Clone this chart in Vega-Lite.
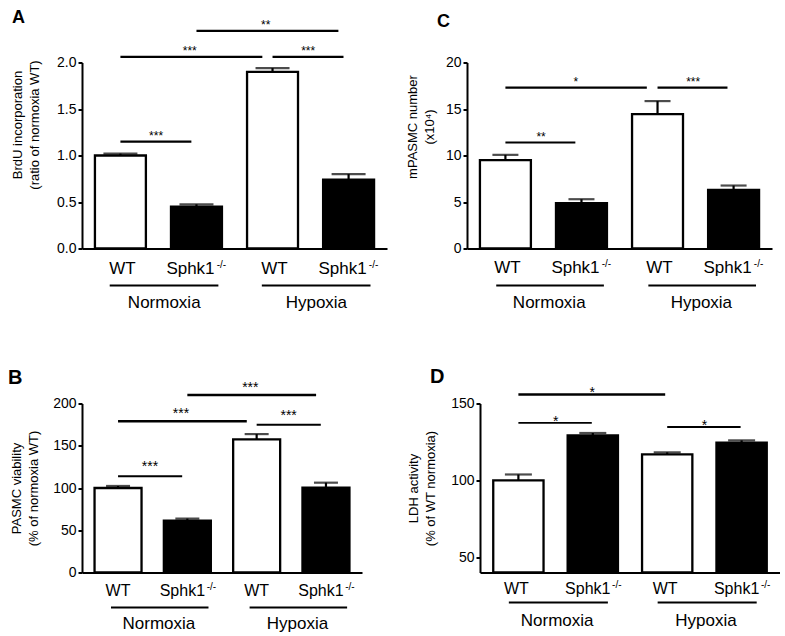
{
  "$schema": "https://vega.github.io/schema/vega-lite/v6.json",
  "padding": {"left": 8, "top": 8.5, "right": 0, "bottom": 0},
  "background": "white",
  "config": {
    "view": {"stroke": null},
    "font": "Liberation Sans",
    "axis": {"grid": false, "labelFont": "Liberation Sans", "titleFont": "Liberation Sans", "labelColor": "black", "titleColor": "black", "domainColor": "black", "tickColor": "black"},
    "title": {"font": "Liberation Sans", "color": "black"},
    "text": {"font": "Liberation Sans", "color": "black"}
  },
  "bounds": "flush",
  "spacing": 341,
  "vconcat": [
    {
      "bounds": "flush",
      "spacing": 80,
      "hconcat": [
        {
          "width": 305, "height": 186,
          "title": {"text": "A", "anchor": "start", "frame": "group", "fontSize": 18, "fontWeight": "bold", "dx": -70, "offset": -8},
          "data": {"values": [
            {"cond": "N_WT", "g": "WT", "v": 1.0, "hi": 1.02},
            {"cond": "N_KO", "g": "KO", "v": 0.45, "hi": 0.475},
            {"cond": "H_WT", "g": "WT", "v": 1.9, "hi": 1.94},
            {"cond": "H_KO", "g": "KO", "v": 0.74, "hi": 0.8}
          ]},
          "layer": [
            {
              "mark": {"type": "bar", "stroke": "black", "strokeWidth": 2.3},
              "encoding": {
                "x": {"field": "cond", "type": "nominal", "scale": {"domain": ["N_WT", "N_KO", "H_WT", "H_KO"], "paddingInner": 0.33, "paddingOuter": 0.17},
                  "axis": {"title": null, "labelAngle": 0, "domainWidth": 2, "ticks": false, "tickSize": 0, "labelFontSize": 17, "labelPadding": 12, "labelOverlap": false,
                    "labelExpr": "indexof(datum.value,'WT')>=0 ? 'WT' : 'Sphk1'",
                    "labelOffset": {"condition": {"test": "indexof(datum.value,'KO')>=0", "value": -6}, "value": 2}}},
                "y": {"field": "v", "type": "quantitative", "scale": {"domain": [0, 2], "nice": false},
                  "axis": {"values": [0, 0.5, 1, 1.5, 2], "format": ".1f", "tickSize": 4, "tickWidth": 2, "domainWidth": 2, "labelFontSize": 14, "labelPadding": 2,
                    "title": ["BrdU incorporation", "(ratio of normoxia WT)"], "titleFontSize": 13, "titleFontWeight": "normal", "titleLineHeight": 17, "titlePadding": 15, "titleY": 62}},
                "fill": {"field": "g", "type": "nominal", "scale": {"domain": ["WT", "KO"], "range": ["white", "black"]}, "legend": null}
              }
            },
            {
              "mark": {"type": "rule", "color": "black", "strokeWidth": 2.2},
              "encoding": {"x": {"field": "cond", "type": "nominal"}, "y": {"field": "v", "type": "quantitative"}, "y2": {"field": "hi"}}
            },
            {
              "mark": {"type": "tick", "color": "black", "thickness": 2.2, "size": 34},
              "encoding": {"x": {"field": "cond", "type": "nominal"}, "y": {"field": "hi", "type": "quantitative"}}
            },
            {
              "transform": [{"filter": "datum.g == 'KO'"}],
              "mark": {"type": "text", "fontSize": 10, "baseline": "top", "dx": 25, "dy": 11.5},
              "encoding": {"x": {"field": "cond", "type": "nominal"}, "y": {"datum": 0}, "text": {"value": "-/-"}}
            },
            {
              "data": {"values": [
                {"a": "N_WT", "b": "N_KO", "grp": "Normoxia"},
                {"a": "H_WT", "b": "H_KO", "grp": "Hypoxia"}
              ]},
              "layer": [
                {"mark": {"type": "rule", "color": "black", "strokeWidth": 2, "yOffset": 37},
                 "encoding": {"x": {"field": "a", "type": "nominal", "bandPosition": 0.29}, "x2": {"field": "b", "bandPosition": 0.93}, "y": {"datum": 0}}},
                {"mark": {"type": "text", "fontSize": 17, "baseline": "top", "dy": 46},
                 "encoding": {"x": {"field": "a", "type": "nominal", "bandPosition": 1.36}, "y": {"datum": 0}, "text": {"field": "grp"}}}
              ]
            },
            {
              "data": {"values": [
                {"a": "N_WT", "b": "N_KO", "y": 1.15, "s": "***"},
                {"a": "N_WT", "b": "H_WT", "y": 2.06, "s": "***"},
                {"a": "H_WT", "b": "H_KO", "y": 2.06, "s": "***"},
                {"a": "N_KO", "b": "H_KO", "y": 2.34, "s": "**"}
              ]},
              "layer": [
                {
                  "transform": [{"filter": "!((datum.a=='N_WT' && datum.b=='H_WT') || (datum.a=='N_KO' && datum.b=='H_KO'))"}],
                  "layer": [
                    {"mark": {"type": "rule", "color": "black", "strokeWidth": 2.2},
                     "encoding": {"x": {"field": "a", "type": "nominal", "bandPosition": 0.5}, "x2": {"field": "b", "bandPosition": 0.4}, "y": {"field": "y", "type": "quantitative"}}},
                    {"mark": {"type": "text", "fontSize": 12, "baseline": "alphabetic", "dy": -2},
                     "encoding": {"x": {"field": "a", "type": "nominal", "bandPosition": 1.2}, "y": {"field": "y", "type": "quantitative"}, "text": {"field": "s"}}}
                  ]
                },
                {
                  "transform": [{"filter": "(datum.a=='N_WT' && datum.b=='H_WT') || (datum.a=='N_KO' && datum.b=='H_KO')"}],
                  "layer": [
                    {"mark": {"type": "rule", "color": "black", "strokeWidth": 2.2},
                     "encoding": {"x": {"field": "a", "type": "nominal", "bandPosition": 0.5}, "x2": {"field": "b", "bandPosition": 0.3}, "y": {"field": "y", "type": "quantitative"}}},
                    {"mark": {"type": "text", "fontSize": 12, "baseline": "alphabetic", "dy": -2},
                     "encoding": {"x": {"field": "a", "type": "nominal", "bandPosition": 1.86}, "y": {"field": "y", "type": "quantitative"}, "text": {"field": "s"}}}
                  ]
                }
              ]
            }
          ]
        },
        {
          "width": 305, "height": 186,
          "title": {"text": "C", "anchor": "start", "frame": "group", "fontSize": 18, "fontWeight": "bold", "dx": -30, "offset": 25},
          "data": {"values": [
            {"cond": "N_WT", "g": "WT", "v": 9.5, "hi": 10.07},
            {"cond": "N_KO", "g": "KO", "v": 4.87, "hi": 5.3},
            {"cond": "H_WT", "g": "WT", "v": 14.45, "hi": 15.85},
            {"cond": "H_KO", "g": "KO", "v": 6.3, "hi": 6.77}
          ]},
          "layer": [
            {
              "mark": {"type": "bar", "stroke": "black", "strokeWidth": 2.3},
              "encoding": {
                "x": {"field": "cond", "type": "nominal", "scale": {"domain": ["N_WT", "N_KO", "H_WT", "H_KO"], "paddingInner": 0.33, "paddingOuter": 0.17},
                  "axis": {"title": null, "labelAngle": 0, "domainWidth": 2, "ticks": false, "tickSize": 0, "labelFontSize": 17, "labelPadding": 11, "labelOverlap": false,
                    "labelExpr": "indexof(datum.value,'WT')>=0 ? 'WT' : 'Sphk1'",
                    "labelOffset": {"condition": {"test": "indexof(datum.value,'KO')>=0", "value": -6}, "value": 2}}},
                "y": {"field": "v", "type": "quantitative", "scale": {"domain": [0, 20], "nice": false},
                  "axis": {"values": [0, 5, 10, 15, 20], "tickSize": 4, "tickWidth": 2, "domainWidth": 2, "labelFontSize": 14, "labelPadding": 2,
                    "title": ["mPASMC number", "(x10⁴)"], "titleFontSize": 13, "titleFontWeight": "normal", "titleLineHeight": 17, "titlePadding": 9, "titleY": 64}},
                "fill": {"field": "g", "type": "nominal", "scale": {"domain": ["WT", "KO"], "range": ["white", "black"]}, "legend": null}
              }
            },
            {
              "mark": {"type": "rule", "color": "black", "strokeWidth": 2.2},
              "encoding": {"x": {"field": "cond", "type": "nominal"}, "y": {"field": "v", "type": "quantitative"}, "y2": {"field": "hi"}}
            },
            {
              "mark": {"type": "tick", "color": "black", "thickness": 2.2, "size": 26},
              "encoding": {"x": {"field": "cond", "type": "nominal"}, "y": {"field": "hi", "type": "quantitative"}}
            },
            {
              "transform": [{"filter": "datum.g == 'KO'"}],
              "mark": {"type": "text", "fontSize": 10, "baseline": "top", "dx": 25, "dy": 10.5},
              "encoding": {"x": {"field": "cond", "type": "nominal"}, "y": {"datum": 0}, "text": {"value": "-/-"}}
            },
            {
              "data": {"values": [
                {"a": "N_WT", "b": "N_KO", "grp": "Normoxia"},
                {"a": "H_WT", "b": "H_KO", "grp": "Hypoxia"}
              ]},
              "layer": [
                {"mark": {"type": "rule", "color": "black", "strokeWidth": 2, "yOffset": 37},
                 "encoding": {"x": {"field": "a", "type": "nominal", "bandPosition": 0.32}, "x2": {"field": "b", "bandPosition": 0.94}, "y": {"datum": 0}}},
                {"mark": {"type": "text", "fontSize": 17, "baseline": "top", "dy": 46},
                 "encoding": {"x": {"field": "a", "type": "nominal", "bandPosition": 1.36}, "y": {"datum": 0}, "text": {"field": "grp"}}}
              ]
            },
            {
              "data": {"values": [
                {"a": "N_WT", "b": "N_KO", "y": 11.4, "s": "**"},
                {"a": "N_WT", "b": "H_WT", "y": 17.3, "s": "*"},
                {"a": "H_WT", "b": "H_KO", "y": 17.3, "s": "***"}
              ]},
              "layer": [
                {
                  "transform": [{"filter": "!((datum.a=='N_WT' && datum.b=='H_WT') || (datum.a=='N_KO' && datum.b=='H_KO'))"}],
                  "layer": [
                    {"mark": {"type": "rule", "color": "black", "strokeWidth": 2.2},
                     "encoding": {"x": {"field": "a", "type": "nominal", "bandPosition": 0.5}, "x2": {"field": "b", "bandPosition": 0.38}, "y": {"field": "y", "type": "quantitative"}}},
                    {"mark": {"type": "text", "fontSize": 12, "baseline": "alphabetic", "dy": -1.5},
                     "encoding": {"x": {"field": "a", "type": "nominal", "bandPosition": 1.2}, "y": {"field": "y", "type": "quantitative"}, "text": {"field": "s"}}}
                  ]
                },
                {
                  "transform": [{"filter": "(datum.a=='N_WT' && datum.b=='H_WT') || (datum.a=='N_KO' && datum.b=='H_KO')"}],
                  "layer": [
                    {"mark": {"type": "rule", "color": "black", "strokeWidth": 2.2},
                     "encoding": {"x": {"field": "a", "type": "nominal", "bandPosition": 0.5}, "x2": {"field": "b", "bandPosition": 0.29}, "y": {"field": "y", "type": "quantitative"}}},
                    {"mark": {"type": "text", "fontSize": 12, "baseline": "alphabetic", "dy": -1.5},
                     "encoding": {"x": {"field": "a", "type": "nominal", "bandPosition": 1.88}, "y": {"field": "y", "type": "quantitative"}, "text": {"field": "s"}}}
                  ]
                }
              ]
            }
          ]
        }
      ]
    },
    {
      "bounds": "flush",
      "spacing": 118,
      "hconcat": [
        {
          "width": 280, "height": 169,
          "title": {"text": "B", "anchor": "start", "frame": "group", "fontSize": 20, "fontWeight": "bold", "dx": -74, "offset": -7},
          "data": {"values": [
            {"cond": "N_WT", "g": "WT", "v": 100, "hi": 102.4},
            {"cond": "N_KO", "g": "KO", "v": 61.4, "hi": 63.8},
            {"cond": "H_WT", "g": "WT", "v": 157.5, "hi": 163.8},
            {"cond": "H_KO", "g": "KO", "v": 100.4, "hi": 106.3}
          ]},
          "layer": [
            {
              "mark": {"type": "bar", "stroke": "black", "strokeWidth": 2.3},
              "encoding": {
                "x": {"field": "cond", "type": "nominal", "scale": {"domain": ["N_WT", "N_KO", "H_WT", "H_KO"], "paddingInner": 0.322, "paddingOuter": 0.181},
                  "axis": {"title": null, "labelAngle": 0, "domainWidth": 2, "ticks": false, "tickSize": 0, "labelFontSize": 16, "labelPadding": 9.5, "labelOverlap": false,
                    "labelExpr": "indexof(datum.value,'WT')>=0 ? 'WT' : 'Sphk1'",
                    "labelOffset": {"condition": {"test": "indexof(datum.value,'KO')>=0", "value": -5}, "value": 0}}},
                "y": {"field": "v", "type": "quantitative", "scale": {"domain": [0, 200], "nice": false},
                  "axis": {"values": [0, 50, 100, 150, 200], "tickSize": 4, "tickWidth": 2, "domainWidth": 2, "labelFontSize": 14, "labelPadding": 2,
                    "title": ["PASMC viability", "(% of normoxia WT)"], "titleFontSize": 13, "titleFontWeight": "normal", "titleLineHeight": 17, "titlePadding": 12}},
                "fill": {"field": "g", "type": "nominal", "scale": {"domain": ["WT", "KO"], "range": ["white", "black"]}, "legend": null}
              }
            },
            {
              "mark": {"type": "rule", "color": "black", "strokeWidth": 2.2},
              "encoding": {"x": {"field": "cond", "type": "nominal"}, "y": {"field": "v", "type": "quantitative"}, "y2": {"field": "hi"}}
            },
            {
              "mark": {"type": "tick", "color": "black", "thickness": 2.2, "size": 24},
              "encoding": {"x": {"field": "cond", "type": "nominal"}, "y": {"field": "hi", "type": "quantitative"}}
            },
            {
              "transform": [{"filter": "datum.g == 'KO'"}],
              "mark": {"type": "text", "fontSize": 10, "baseline": "top", "dx": 24, "dy": 9},
              "encoding": {"x": {"field": "cond", "type": "nominal"}, "y": {"datum": 0}, "text": {"value": "-/-"}}
            },
            {
              "data": {"values": [
                {"a": "N_WT", "b": "N_KO", "grp": "Normoxia"},
                {"a": "H_WT", "b": "H_KO", "grp": "Hypoxia"}
              ]},
              "layer": [
                {"mark": {"type": "rule", "color": "black", "strokeWidth": 2, "yOffset": 35},
                 "encoding": {"x": {"field": "a", "type": "nominal", "bandPosition": 0.35}, "x2": {"field": "b", "bandPosition": 0.95}, "y": {"datum": 0}}},
                {"mark": {"type": "text", "fontSize": 17, "baseline": "top", "dy": 43},
                 "encoding": {"x": {"field": "a", "type": "nominal", "bandPosition": 1.37}, "y": {"datum": 0}, "text": {"field": "grp"}}}
              ]
            },
            {
              "data": {"values": [
                {"a": "N_WT", "b": "N_KO", "y": 114, "s": "***"},
                {"a": "N_WT", "b": "H_WT", "y": 179, "s": "***"},
                {"a": "H_WT", "b": "H_KO", "y": 175, "s": "***"},
                {"a": "N_KO", "b": "H_KO", "y": 210, "s": "***"}
              ]},
              "layer": [
                {
                  "transform": [{"filter": "!((datum.a=='N_WT' && datum.b=='H_WT') || (datum.a=='N_KO' && datum.b=='H_KO'))"}],
                  "layer": [
                    {"mark": {"type": "rule", "color": "black", "strokeWidth": 2},
                     "encoding": {"x": {"field": "a", "type": "nominal", "bandPosition": 0.5}, "x2": {"field": "b", "bandPosition": 0.39}, "y": {"field": "y", "type": "quantitative"}}},
                    {"mark": {"type": "text", "fontSize": 14, "baseline": "alphabetic", "dy": -5},
                     "encoding": {"x": {"field": "a", "type": "nominal", "bandPosition": 1.18}, "y": {"field": "y", "type": "quantitative"}, "text": {"field": "s"}}}
                  ]
                },
                {
                  "transform": [{"filter": "(datum.a=='N_WT' && datum.b=='H_WT') || (datum.a=='N_KO' && datum.b=='H_KO')"}],
                  "layer": [
                    {"mark": {"type": "rule", "color": "black", "strokeWidth": 2.4},
                     "encoding": {"x": {"field": "a", "type": "nominal", "bandPosition": 0.5}, "x2": {"field": "b", "bandPosition": 0.29}, "y": {"field": "y", "type": "quantitative"}}},
                    {"mark": {"type": "text", "fontSize": 14, "baseline": "alphabetic", "dy": -3},
                     "encoding": {"x": {"field": "a", "type": "nominal", "bandPosition": 1.84}, "y": {"field": "y", "type": "quantitative"}, "text": {"field": "s"}}}
                  ]
                }
              ]
            }
          ]
        },
        {
          "width": 300, "height": 169,
          "title": {"text": "D", "anchor": "start", "frame": "group", "fontSize": 20, "fontWeight": "bold", "dx": -50, "offset": -1},
          "data": {"values": [
            {"cond": "N_WT", "g": "WT", "v": 100, "hi": 103.8},
            {"cond": "N_KO", "g": "KO", "v": 129.3, "hi": 130.8},
            {"cond": "H_WT", "g": "WT", "v": 116.9, "hi": 118.2},
            {"cond": "H_KO", "g": "KO", "v": 124.5, "hi": 126}
          ]},
          "layer": [
            {
              "mark": {"type": "bar", "stroke": "black", "strokeWidth": 2.3},
              "encoding": {
                "x": {"field": "cond", "type": "nominal", "scale": {"domain": ["N_WT", "N_KO", "H_WT", "H_KO"], "paddingInner": 0.324, "paddingOuter": 0.178},
                  "axis": {"title": null, "labelAngle": 0, "domainWidth": 2, "ticks": false, "tickSize": 0, "labelFontSize": 16, "labelPadding": 8, "labelOverlap": false,
                    "labelExpr": "indexof(datum.value,'WT')>=0 ? 'WT' : 'Sphk1'",
                    "labelOffset": {"condition": {"test": "indexof(datum.value,'KO')>=0", "value": -5}, "value": -2}}},
                "y": {"field": "v", "type": "quantitative", "scale": {"domain": [40, 150], "nice": false, "zero": false},
                  "axis": {"values": [50, 100, 150], "tickSize": 4, "tickWidth": 2, "domainWidth": 2, "labelFontSize": 14, "labelPadding": 2,
                    "title": ["LDH activity", "(% of WT normoxia)"], "titleFontSize": 13, "titleFontWeight": "normal", "titleLineHeight": 17, "titlePadding": 13}},
                "y2": {"datum": 40},
                "fill": {"field": "g", "type": "nominal", "scale": {"domain": ["WT", "KO"], "range": ["white", "black"]}, "legend": null}
              }
            },
            {
              "mark": {"type": "rule", "color": "black", "strokeWidth": 2.2},
              "encoding": {"x": {"field": "cond", "type": "nominal"}, "y": {"field": "v", "type": "quantitative"}, "y2": {"field": "hi"}}
            },
            {
              "mark": {"type": "tick", "color": "black", "thickness": 2.2, "size": 27},
              "encoding": {"x": {"field": "cond", "type": "nominal"}, "y": {"field": "hi", "type": "quantitative"}}
            },
            {
              "transform": [{"filter": "datum.g == 'KO'"}],
              "mark": {"type": "text", "fontSize": 10, "baseline": "top", "dx": 24, "dy": 7.5},
              "encoding": {"x": {"field": "cond", "type": "nominal"}, "y": {"datum": 40}, "text": {"value": "-/-"}}
            },
            {
              "data": {"values": [
                {"a": "N_WT", "b": "N_KO", "grp": "Normoxia"},
                {"a": "H_WT", "b": "H_KO", "grp": "Hypoxia"}
              ]},
              "layer": [
                {"mark": {"type": "rule", "color": "black", "strokeWidth": 1.8, "yOffset": 30},
                 "encoding": {"x": {"field": "a", "type": "nominal", "bandPosition": 0.31}, "x2": {"field": "b", "bandPosition": 0.8}, "y": {"datum": 40}}},
                {"mark": {"type": "text", "fontSize": 17, "baseline": "top", "dy": 40},
                 "encoding": {"x": {"field": "a", "type": "nominal", "bandPosition": 1.27}, "y": {"datum": 40}, "text": {"field": "grp"}}}
              ]
            },
            {
              "data": {"values": [
                {"a": "N_WT", "b": "N_KO", "y": 137.4, "s": "*"},
                {"a": "N_WT", "b": "H_WT", "y": 155.9, "s": "*"},
                {"a": "H_WT", "b": "H_KO", "y": 134.7, "s": "*"}
              ]},
              "layer": [
                {
                  "transform": [{"filter": "!((datum.a=='N_WT' && datum.b=='H_WT') || (datum.a=='N_KO' && datum.b=='H_KO'))"}],
                  "layer": [
                    {"mark": {"type": "rule", "color": "black", "strokeWidth": 1.8},
                     "encoding": {"x": {"field": "a", "type": "nominal", "bandPosition": 0.5}, "x2": {"field": "b", "bandPosition": 0.48}, "y": {"field": "y", "type": "quantitative"}}},
                    {"mark": {"type": "text", "fontSize": 14, "baseline": "alphabetic", "dy": 3},
                     "encoding": {"x": {"field": "a", "type": "nominal", "bandPosition": 1.24}, "y": {"field": "y", "type": "quantitative"}, "text": {"field": "s"}}}
                  ]
                },
                {
                  "transform": [{"filter": "(datum.a=='N_WT' && datum.b=='H_WT') || (datum.a=='N_KO' && datum.b=='H_KO')"}],
                  "layer": [
                    {"mark": {"type": "rule", "color": "black", "strokeWidth": 2.4},
                     "encoding": {"x": {"field": "a", "type": "nominal", "bandPosition": 0.5}, "x2": {"field": "b", "bandPosition": 0.46}, "y": {"field": "y", "type": "quantitative"}}},
                    {"mark": {"type": "text", "fontSize": 14, "baseline": "alphabetic", "dy": 3},
                     "encoding": {"x": {"field": "a", "type": "nominal", "bandPosition": 1.97}, "y": {"field": "y", "type": "quantitative"}, "text": {"field": "s"}}}
                  ]
                }
              ]
            }
          ]
        }
      ]
    }
  ]
}
